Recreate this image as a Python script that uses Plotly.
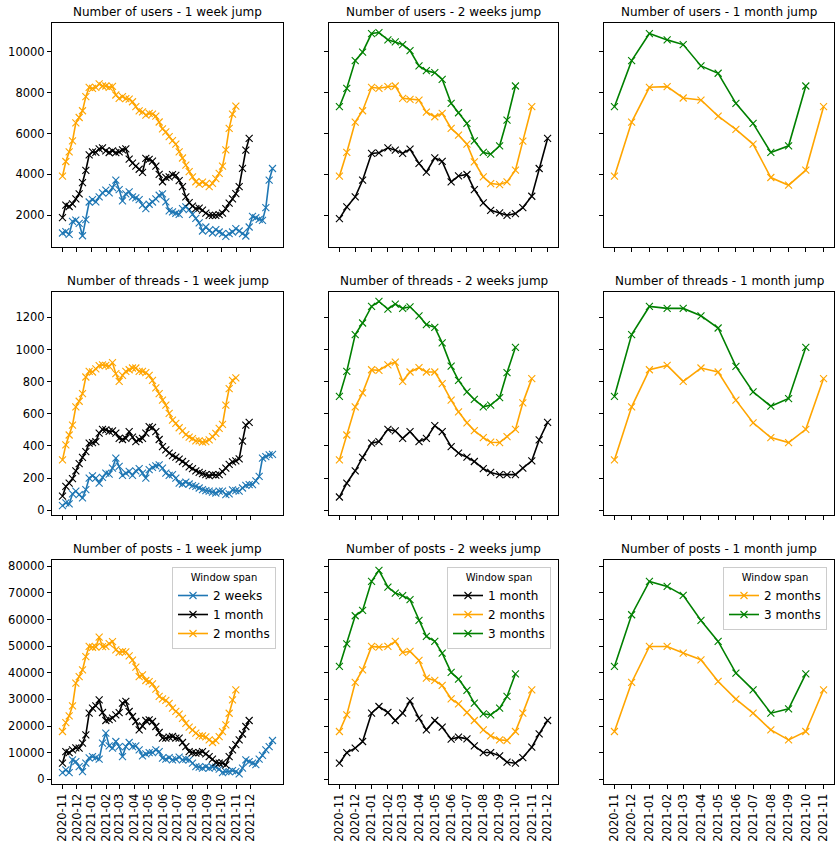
import pandas as pd
import plotly.graph_objects as go
from plotly.subplots import make_subplots

# ---- dates -------------------------------------------------------------
START = "2020-11-01"
WEEK_DATES = pd.date_range(START, periods=64, freq="7D")      # 1 week jump
HALF_MONTH_DATES = pd.date_range(START, periods=27, freq="SMS")  # 2 weeks jump
MONTH_DATES = pd.date_range(START, periods=13, freq="MS")     # 1 month jump

MONTH_LABELS = ["2020-11", "2020-12", "2021-01", "2021-02", "2021-03", "2021-04",
                "2021-05", "2021-06", "2021-07", "2021-08", "2021-09", "2021-10",
                "2021-11", "2021-12"]

# ---- number of users ---------------------------------------------------
users_wk_2w = [1134, 1200, 1069, 1700, 1760, 1600, 1000, 1788, 2650, 2768,
               2653, 2900, 3100, 3225, 3094, 3355, 3715, 3257, 2702, 3050,
               3143, 2898, 2849, 2768, 2500, 2327, 2540, 2650, 2800, 2980,
               3050, 2653, 2212, 2163, 2100, 2049, 2327, 2408, 2278, 2049,
               1850, 1624, 1232, 1428, 1265, 1134, 1298, 1183, 1100, 971,
               1100, 1183, 1347, 1232, 1100, 987, 1428, 1951, 1880, 1800,
               1750, 2376, 3715, 4287]
users_wk_1m = [1887, 2500, 2430, 2560, 2800, 3050, 3600, 4200, 4950, 5100,
               5080, 5250, 5300, 5150, 5070, 5150, 5060, 5100, 5200, 5250,
               4750, 4550, 4400, 4250, 4100, 4780, 4730, 4650, 4400, 4000,
               3640, 3850, 3880, 3990, 3950, 3700, 3400, 2900, 2620, 2450,
               2330, 2350, 2250, 2110, 2000, 2000, 2000, 2030, 2110, 2330,
               2600, 2800, 3060, 3400, 4290, 5190, 5760]
users_wk_2m = [3911, 4630, 5100, 5640, 6520, 6780, 7110, 7800, 8250, 8200,
               8250, 8420, 8320, 8320, 8250, 8300, 7880, 7720, 7800, 7700,
               7680, 7550, 7310, 7100, 7060, 6900, 6980, 6950, 6850, 6560,
               6220, 6080, 5850, 5650, 5480, 5100, 4800, 4450, 4130, 3880,
               3640, 3520, 3620, 3540, 3400, 3560, 3790, 4050, 4400, 5200,
               6250, 6950, 7340]
users_hm_1m = [1838, 2407, 2897, 3715, 5023, 5053, 5298, 5185, 5023, 5234,
               4533, 4107, 4808, 4631, 3632, 3926, 3994, 3259, 2603, 2245,
               2113, 2000, 2083, 2377, 2931, 4288, 5758]
users_hm_2m = [3911, 5072, 6557, 7111, 8257, 8208, 8287, 8321, 7719, 7670,
               7635, 7047, 6817, 6983, 6248, 5920, 5479, 4612, 3877, 3553,
               3504, 3632, 4205, 5626, 7307]
users_hm_3m = [7307, 8208, 9561, 9973, 10884, 10933, 10575, 10477, 10345, 10051,
               9301, 9071, 8973, 8649, 7473, 7013, 6493, 5641, 5072, 4989,
               5396, 6655, 8321]
users_mo_2m = [3911, 6557, 8257, 8287, 7733, 7635, 6851, 6199, 5479, 3847,
               3470, 4205, 7307]
users_mo_3m = [7307, 9561, 10884, 10575, 10345, 9301, 8943, 7473, 6493, 5072,
               5396, 8321]

# ---- number of threads -------------------------------------------------
threads_wk_2w = [29, 45, 39, 101, 118, 97, 76, 128, 200, 214,
                 200, 169, 204, 231, 225, 262, 324, 272, 216, 231,
                 241, 216, 245, 258, 231, 200, 252, 266, 276, 282,
                 262, 231, 216, 221, 200, 169, 163, 175, 163, 153,
                 148, 138, 128, 122, 118, 113, 107, 118, 118, 97,
                 101, 126, 122, 118, 138, 155, 159, 159, 183, 210,
                 324, 334, 344, 348]
threads_wk_1m = [87, 148, 169, 196, 245, 290, 328, 365, 417, 420,
                 427, 480, 503, 500, 490, 493, 480, 447, 440, 447,
                 489, 455, 427, 440, 447, 480, 520, 515, 489, 440,
                 396, 375, 355, 340, 330, 318, 303, 290, 270, 258,
                 245, 235, 228, 221, 215, 221, 218, 221, 240, 262,
                 285, 300, 307, 320, 430, 530, 546]
threads_wk_2m = [313, 406, 468, 530, 643, 678, 726, 829, 864, 860,
                 880, 900, 905, 901, 895, 918, 850, 802, 839, 864,
                 874, 885, 885, 864, 864, 856, 839, 808, 761, 726,
                 685, 654, 602, 561, 540, 513, 493, 470, 455, 445,
                 432, 431, 423, 427, 437, 458, 478, 509, 534, 654,
                 757, 808, 823]
threads_hm_1m = [82, 169, 245, 328, 417, 427, 503, 493, 447, 489,
                 427, 447, 526, 489, 396, 355, 330, 303, 258, 235,
                 221, 221, 221, 262, 307, 437, 546]
threads_hm_2m = [313, 468, 643, 730, 874, 870, 905, 922, 802, 860,
                 887, 860, 860, 788, 685, 612, 544, 495, 452, 423,
                 421, 458, 503, 668, 819]
threads_hm_3m = [709, 864, 1093, 1165, 1268, 1299, 1252, 1283, 1256, 1266,
                 1210, 1155, 1138, 1041, 897, 808, 736, 689, 643, 654,
                 701, 856, 1014]
threads_mo_2m = [313, 643, 874, 901, 802, 885, 860, 685, 544, 452,
                 421, 503, 819]
threads_mo_3m = [709, 1093, 1268, 1256, 1256, 1210, 1134, 895, 736, 647,
                 695, 1014]

# ---- number of posts ---------------------------------------------------
posts_wk_2w = [2508, 3511, 2508, 7273, 6646, 4765, 2884, 6019, 8000, 8527,
               8151, 7524, 13543, 17306, 12540, 11662, 14170, 12289, 8527, 12289,
               13794, 12289, 12540, 11035, 8778, 9530, 10032, 10032, 11035, 10408,
               7900, 7524, 8151, 7273, 7524, 8277, 7273, 7524, 7273, 6019,
               4765, 4514, 4138, 4765, 4138, 4514, 4514, 3762, 2508, 2884,
               2884, 3260, 2884, 2006, 4138, 7273, 6646, 6019, 5500, 7524,
               9000, 11035, 12289, 14546]
posts_wk_1m = [6019, 10400, 10032, 11035, 11800, 11662, 13543, 16678, 24829, 26710,
               27588, 29845, 25080, 22070, 22400, 22948, 24202, 25000, 28591, 29218,
               25456, 23575, 21694, 18559, 20000, 22070, 22321, 21694, 19813, 17556,
               15424, 15424, 15800, 16051, 15424, 15424, 13794, 12289, 10408, 10032,
               9781, 10032, 10408, 9500, 8527, 7524, 6270, 6019, 6019, 5392,
               8527, 11035, 13000, 14800, 17000, 19813, 22070]
posts_wk_2m = [17932, 21300, 23800, 27600, 36100, 38600, 41100, 46100, 49900, 49600,
               49700, 53400, 49800, 49900, 51000, 51700, 48600, 47700, 48000, 47900,
               46400, 44800, 42100, 38600, 39200, 37100, 36700, 35800, 33900, 31100,
               30200, 29600, 28500, 26700, 25500, 24500, 22900, 21000, 19600, 18500,
               17300, 16300, 16300, 15900, 14800, 13800, 14500, 16000, 17900, 20400,
               24800, 29800, 33600]
posts_hm_1m = [6019, 10032, 11662, 14170, 24829, 27337, 25080, 22070, 24829, 29469,
               22948, 18559, 22070, 19562, 15048, 15800, 15173, 12540, 10032, 10032,
               8778, 6395, 6019, 8151, 12038, 17054, 22070]
posts_hm_2m = [17932, 24202, 36366, 41131, 49909, 49658, 49909, 51790, 47652, 48028,
               44642, 37996, 37118, 35237, 30221, 28340, 25080, 22070, 18559, 16302,
               14797, 14546, 17932, 24829, 33607]
posts_hm_3m = [42385, 50912, 61446, 63452, 74362, 78500, 72230, 69973, 68970, 67465,
               59690, 53671, 51790, 47401, 40128, 37620, 33356, 28591, 24578, 24202,
               26710, 31099, 39626]
posts_mo_2m = [17932, 36366, 49909, 49909, 47401, 44893, 36742, 30096, 24829, 18559,
               14797, 17932, 33607]
posts_mo_3m = [42385, 61822, 74362, 72481, 69095, 59690, 51790, 39877, 33607, 24829,
               26459, 39626]

ROW_NAMES = ["users", "threads", "posts"]
COL_NAMES = ["1 week jump", "2 weeks jump", "1 month jump"]
Y_TICKS = [[2000, 4000, 6000, 8000, 10000],
           [0, 200, 400, 600, 800, 1000, 1200],
           [0, 10000, 20000, 30000, 40000, 50000, 60000, 70000, 80000]]
Y_RANGES = [[450, 11400], [-30, 1358], [-1800, 82400]]

SPAN_COLORS = {"2 weeks": "#1f77b4", "1 month": "black",
               "2 months": "orange", "3 months": "green"}

# (row, col) -> list of (span label, dates, values)
PANELS = {
    (0, 0): [("2 weeks", WEEK_DATES, users_wk_2w), ("1 month", WEEK_DATES, users_wk_1m),
             ("2 months", WEEK_DATES, users_wk_2m)],
    (0, 1): [("1 month", HALF_MONTH_DATES, users_hm_1m), ("2 months", HALF_MONTH_DATES, users_hm_2m),
             ("3 months", HALF_MONTH_DATES, users_hm_3m)],
    (0, 2): [("2 months", MONTH_DATES, users_mo_2m), ("3 months", MONTH_DATES, users_mo_3m)],
    (1, 0): [("2 weeks", WEEK_DATES, threads_wk_2w), ("1 month", WEEK_DATES, threads_wk_1m),
             ("2 months", WEEK_DATES, threads_wk_2m)],
    (1, 1): [("1 month", HALF_MONTH_DATES, threads_hm_1m), ("2 months", HALF_MONTH_DATES, threads_hm_2m),
             ("3 months", HALF_MONTH_DATES, threads_hm_3m)],
    (1, 2): [("2 months", MONTH_DATES, threads_mo_2m), ("3 months", MONTH_DATES, threads_mo_3m)],
    (2, 0): [("2 weeks", WEEK_DATES, posts_wk_2w), ("1 month", WEEK_DATES, posts_wk_1m),
             ("2 months", WEEK_DATES, posts_wk_2m)],
    (2, 1): [("1 month", HALF_MONTH_DATES, posts_hm_1m), ("2 months", HALF_MONTH_DATES, posts_hm_2m),
             ("3 months", HALF_MONTH_DATES, posts_hm_3m)],
    (2, 2): [("2 months", MONTH_DATES, posts_mo_2m), ("3 months", MONTH_DATES, posts_mo_3m)],
}

# axes boxes in pixels (left, right) / (top, bottom)
W, H = 840, 848
COL_PX = [(52, 283), (329, 558), (604, 834)]
ROW_PX = [(23, 247), (292, 515), (560, 784)]
LEGENDS = ["legend", "legend2", "legend3"]

fig = make_subplots(rows=3, cols=3)

for (r, c), series in PANELS.items():
    for label, dates, vals in series:
        fig.add_trace(go.Scatter(
            x=dates[:len(vals)], y=vals,
            mode="lines+markers", name=label,
            line=dict(color=SPAN_COLORS[label], width=1.6),
            marker=dict(symbol="x-thin", size=7,
                        line=dict(color=SPAN_COLORS[label], width=1.1)),
            showlegend=(r == 2), legend=LEGENDS[c],
        ), row=r + 1, col=c + 1)

annotations = []
for r in range(3):
    for c in range(3):
        idx = r * 3 + c + 1
        xa = "xaxis" if idx == 1 else f"xaxis{idx}"
        ya = "yaxis" if idx == 1 else f"yaxis{idx}"
        x0, x1 = COL_PX[c]
        y0, y1 = ROW_PX[r]

        # x range: data span with 5% padding, like matplotlib
        ends = [d[:len(v)] for _, d, v in PANELS[(r, c)]]
        dmin = min(e[0] for e in ends)
        dmax = max(e[-1] for e in ends)
        pad = (dmax - dmin) * 0.05
        labels = MONTH_LABELS if c < 2 else MONTH_LABELS[:13]

        fig.layout[xa].update(
            domain=[x0 / W, x1 / W], range=[dmin - pad, dmax + pad],
            tickvals=pd.to_datetime(labels), ticktext=labels,
            showticklabels=(r == 2), tickangle=-90,
            ticks="outside", ticklen=4, tickwidth=1, tickcolor="black",
            showline=True, linecolor="black", linewidth=1, mirror=True,
            showgrid=False, zeroline=False, automargin=False,
            tickfont=dict(size=11.5),
        )
        fig.layout[ya].update(
            domain=[1 - y1 / H, 1 - y0 / H], range=Y_RANGES[r],
            tickvals=Y_TICKS[r], tickformat="d",
            showticklabels=(c == 0),
            ticks="outside", ticklen=4, tickwidth=1, tickcolor="black",
            showline=True, linecolor="black", linewidth=1, mirror=True,
            showgrid=False, zeroline=False, automargin=False,
            tickfont=dict(size=11.5),
        )
        annotations.append(dict(
            text=f"Number of {ROW_NAMES[r]} - {COL_NAMES[c]}",
            x=(x0 + x1) / 2 / W, y=1 - y0 / H, xref="paper", yref="paper",
            xanchor="center", yanchor="bottom", yshift=2, showarrow=False,
            font=dict(size=12, color="black"),
        ))

legend_style = dict(
    xanchor="right", yanchor="top",
    bgcolor="rgba(255,255,255,0.8)", bordercolor="#cccccc", borderwidth=1,
    font=dict(size=12, color="black"),
    title=dict(text="Window span", font=dict(size=10), side="top center"),
    tracegroupgap=0,
)
legend_layout = {}
for c, name in enumerate(LEGENDS):
    legend_layout[name] = dict(legend_style,
                               x=(COL_PX[c][1] - 7) / W,
                               y=1 - (ROW_PX[2][0] + 7) / H)

fig.update_layout(
    width=W, height=H,
    margin=dict(l=0, r=0, t=0, b=0),
    plot_bgcolor="white", paper_bgcolor="white",
    font=dict(family="DejaVu Sans", size=11.5, color="black"),
    annotations=annotations,
    **legend_layout,
)

# the page body has a default 8px margin; drop it so the figure fills the window
fig.write_html("out.html", config={"displayModeBar": False},
               post_script="document.body.style.margin='0';")
